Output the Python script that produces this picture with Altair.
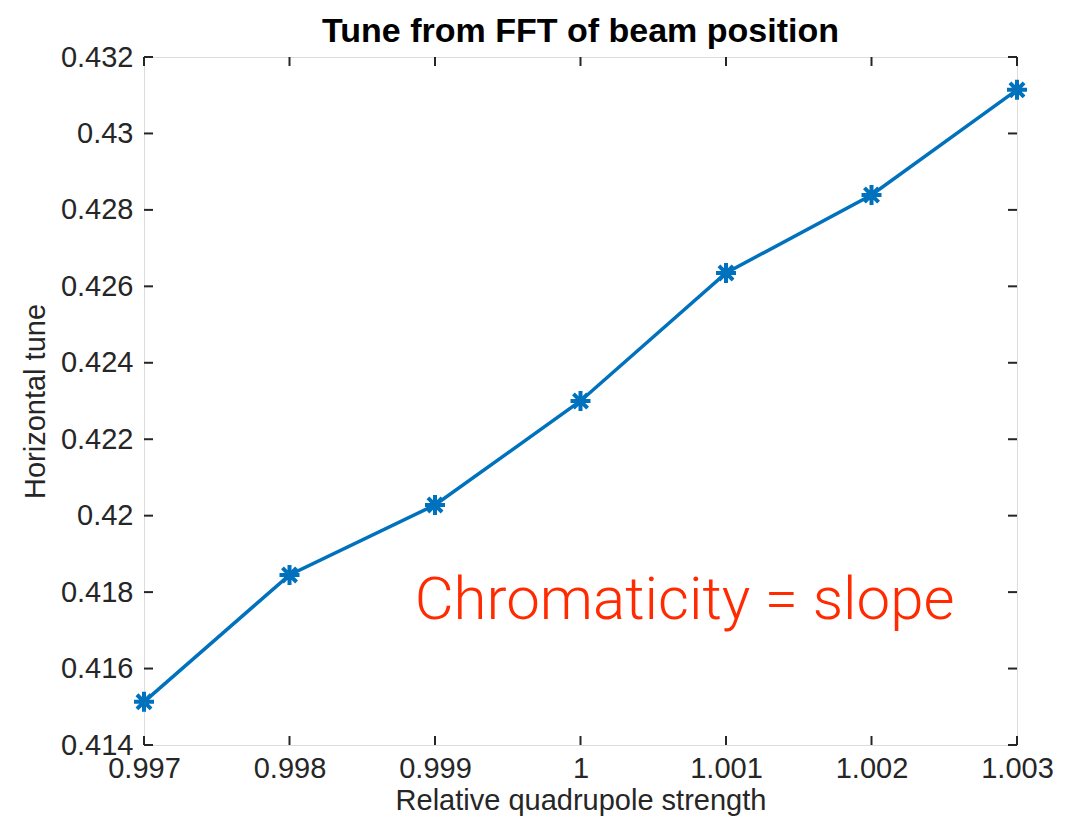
import altair as alt
import pandas as pd

strength = [0.997, 0.998, 0.999, 1.000, 1.001, 1.002, 1.003]
tune = [0.41513, 0.41845, 0.42028, 0.4230, 0.42635, 0.42839, 0.43114]
x_ticks = [0.997, 0.998, 0.999, 1.0, 1.001, 1.002, 1.003]
y_ticks = [0.414, 0.416, 0.418, 0.42, 0.422, 0.424, 0.426, 0.428, 0.43, 0.432]
note_text = ["Chromaticity = slope"]
note_x = [0.99886]
note_y = [0.4173]

W, H = 873, 688
AX = "#262626"
BLUE = "#0072BD"
FONT = "Liberation Sans"

df = pd.DataFrame({"s": strength, "t": tune})
xs = alt.Scale(domain=[0.997, 1.003], nice=False, zero=False)
ys = alt.Scale(domain=[0.414, 0.432], nice=False, zero=False)

xaxis = alt.Axis(values=x_ticks, format="~g", ticks=False, domain=False, grid=False,
                 labelFontSize=29, labelColor=AX, labelFont=FONT, labelPadding=9,
                 titleFontSize=29, titleFont=FONT, titleColor=AX, titleFontWeight="normal",
                 titlePadding=3, labelFlush=False)
yaxis = alt.Axis(values=y_ticks, format="~g", ticks=False, domain=False, grid=False,
                 labelFontSize=29, labelColor=AX, labelFont=FONT, labelPadding=11,
                 titleFontSize=29, titleFont=FONT, titleColor=AX, titleFontWeight="normal",
                 titlePadding=10, labelFlush=False)

asterisk = "M0,-1L0,1M-1,0L1,0M-0.707,-0.707L0.707,0.707M-0.707,0.707L0.707,-0.707"

line = alt.Chart(df).mark_line(color=BLUE, strokeWidth=3.5).encode(
    x=alt.X("s:Q", scale=xs, axis=xaxis, title="Relative quadrupole strength"),
    y=alt.Y("t:Q", scale=ys, axis=yaxis, title="Horizontal tune"),
)
pts = alt.Chart(df).mark_point(shape=asterisk, filled=False, color=BLUE, strokeWidth=4,
                               size=400, opacity=1).encode(
    x=alt.X("s:Q", scale=xs), y=alt.Y("t:Q", scale=ys))

xt = pd.DataFrame({"v": x_ticks})
yt = pd.DataFrame({"v": y_ticks})
tb = alt.Chart(xt).mark_rule(color=AX, strokeWidth=2).encode(
    x=alt.X("v:Q", scale=xs), y=alt.value(H), y2=alt.value(H - 9))
tt = alt.Chart(xt).mark_rule(color=AX, strokeWidth=2).encode(
    x=alt.X("v:Q", scale=xs), y=alt.value(0), y2=alt.value(9))
tl = alt.Chart(yt).mark_rule(color=AX, strokeWidth=2).encode(
    y=alt.Y("v:Q", scale=ys), x=alt.value(0), x2=alt.value(9))
tr = alt.Chart(yt).mark_rule(color=AX, strokeWidth=2).encode(
    y=alt.Y("v:Q", scale=ys), x=alt.value(W), x2=alt.value(W - 9))

note = alt.Chart(pd.DataFrame({"x": note_x, "y": note_y, "txt": note_text})).mark_text(
    color="#FF2A00", font="Roboto", fontWeight=300, fontSize=60, align="left",
    baseline="alphabetic").encode(x=alt.X("x:Q", scale=xs), y=alt.Y("y:Q", scale=ys), text="txt:N")

chart = alt.layer(tb, tt, tl, tr, line, pts, note).properties(
    width=W, height=H,
    title=alt.TitleParams("Tune from FFT of beam position", fontSize=34, font=FONT,
                          fontWeight="bold", color="black", offset=-6, anchor="middle"),
    autosize=alt.AutoSizeParams(type="none"),
    padding={"left": 144, "top": 57, "right": 50, "bottom": 74},
).configure_view(stroke=AX, strokeWidth=2).configure(background="white")

chart.save("out.html", embed_options={"renderer": "svg", "actions": False})
